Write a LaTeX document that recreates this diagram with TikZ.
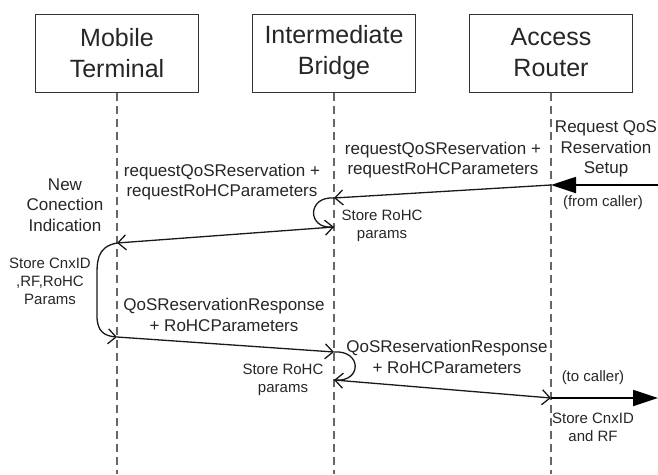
\documentclass[tikz,border=0pt]{standalone}
\usepackage{fontspec}
\setmainfont{Liberation Sans}
\usepackage{tikz}
\usetikzlibrary{positioning,arrows.meta}

\begin{document}
\begin{tikzpicture}[x=1pt, y=-1pt,
    entity/.style={draw=black!80, line width=1pt, minimum width=163pt, minimum height=78pt, align=center, text=black!85, font=\fontsize{25}{31}\selectfont},
    lifeline/.style={draw=black!60, line width=1.2pt, dash pattern=on 8pt off 5pt},
    msg/.style={draw=black!90, line width=1.3pt, -{Straight Barb[length=8pt,width=15pt]}},
    extmsg/.style={draw=black, line width=1.8pt, -{Triangle[length=25pt,width=16pt]}},
    msglabel/.style={align=center, inner sep=0pt, text=black!85, font=\fontsize{17}{20.5}\selectfont},
    note/.style={align=center, inner sep=0pt, text=black!85, font=\fontsize{15}{18}\selectfont}
    ]
        \useasboundingbox (0,0) rectangle (658,474);

        %Nodes
        \node[entity] (mt) at (117,53) {Mobile\\Terminal};
        \node[entity] (ib) [right=53pt of mt] {Intermediate\\Bridge};
        \node[entity] (ar) [right=53pt of ib] {Access\\Router};

        %Lifelines
        \draw[lifeline] (mt.south) -- (mt |- 0,474);
        \draw[lifeline] (ib.south) -- (ib |- 0,474);
        \draw[lifeline] (ar.south) -- (ar |- 0,474);

        %Points on the lifelines
        \coordinate (callerin)  at (658,185);
        \coordinate (ar1) at (ar |- 0,185);
        \coordinate (ib1) at (ib |- 0,198);
        \coordinate (ib2) at (ib |- 0,227);
        \coordinate (mt1) at (mt |- 0,243);
        \coordinate (mt2) at (mt |- 0,337);
        \coordinate (ib3) at (ib |- 0,352);
        \coordinate (ib4) at (ib |- 0,380);
        \coordinate (ar2) at (ar |- 0,398);
        \coordinate (callerout) at (658,398);

        %Labels
        \node[msglabel] (setup)   at (606,149) {Request QoS\\Reservation\\Setup};
        \node[note]     (from)    at (603,203) {(from caller)};
        \node[msglabel] (reqar)   at (443,160) {requestQoSReservation +\\requestRoHCParameters};
        \node[note]     (storeib) at (382,226) {Store RoHC\\params};
        \node[msglabel] (newcnx)  at (65,205)  {New\\Conection\\Indication};
        \node[msglabel] (reqib)   at (222,182) {requestQoSReservation +\\requestRoHCParameters};
        \node[note]     (storemt) at (50,281)  {Store CnxID\\,RF,RoHC\\Params};
        \node[msglabel] (respmt)  at (224,315) {QoSReservationResponse\\+ RoHCParameters};
        \node[note]     (storeib2) at (283,380) {Store RoHC\\params};
        \node[msglabel] (respib)  at (447,357) {QoSReservationResponse\\+ RoHCParameters};
        \node[note]     (to)      at (593,378) {(to caller)};
        \node[note]     (storear) at (593,427) {Store CnxID\\and RF};

        %Lines
        \draw[extmsg] (callerin) -- (ar1);
        \draw[msg] (ar1) -- (ib1);
        \draw[msg] (ib1) .. controls (307,196) and (307,229) .. (ib2);
        \draw[msg] (ib2) -- (mt1);
        \draw[msg] (mt1) .. controls (96,247) and (97,262) .. (97,280)
            -- (97,316) .. controls (97,331) and (104,336) .. (mt2);
        \draw[msg] (mt2) -- (ib3);
        \draw[msg] (ib3) .. controls (362,350) and (362,382) .. (ib4);
        \draw[msg] (ib4) -- (ar2);
        \draw[extmsg] (ar2) -- (callerout);
    \end{tikzpicture}
\end{document}
